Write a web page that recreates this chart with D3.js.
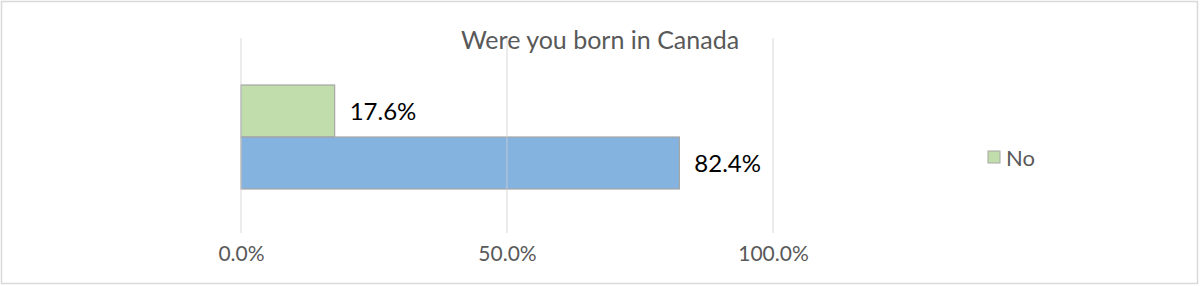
<!DOCTYPE html>
<html>
<head>
<meta charset="utf-8">
<script src="https://cdn.jsdelivr.net/npm/d3@7"></script>
<style>
  html, body { margin: 0; padding: 0; background: #fff; }
  svg { display: block; }
</style>
</head>
<body>
<div id="chart"></div>
<script>
// data
const seriesNames = ["No", "Yes"]
const seriesValues = [17.6, 82.4]
const seriesColors = ["#C1DDAB", "#84B3E0"]
const legendNames = ["No"]
const tickValues = [0, 50, 100]
const chartTitle = "Were you born in Canada"

const width = 1200
const height = 286
const font = "Lato, 'Open Sans', sans-serif"

const svg = d3.select("#chart")
  .append("svg")
  .attr("width", width)
  .attr("height", height)

// outer frame
svg.append("rect")
  .attr("x", 1.5).attr("y", 1.5)
  .attr("width", width - 4).attr("height", height - 4)
  .attr("fill", "#fff")
  .attr("stroke", "#D9D9D9")
  .attr("stroke-width", 1.5)

const x = d3.scaleLinear().domain([0, 100]).range([241, 773])
const y = d3.scaleBand().domain(seriesNames).range([85, 189]).paddingInner(0)

// bars
svg.append("g")
  .selectAll("rect")
  .data(seriesNames)
  .join("rect")
  .attr("x", x(0))
  .attr("y", d => y(d))
  .attr("width", (d, i) => x(seriesValues[i]) - x(0))
  .attr("height", y.bandwidth())
  .attr("fill", (d, i) => seriesColors[i])
  .attr("stroke", "#A6A6A6")
  .attr("stroke-width", 1.2)

// gridlines (drawn over bars, faint)
svg.append("g")
  .selectAll("line")
  .data(tickValues)
  .join("line")
  .attr("x1", d => x(d)).attr("x2", d => x(d))
  .attr("y1", 38).attr("y2", 233)
  .attr("stroke", "#D0D0D0")
  .attr("stroke-opacity", 0.8)
  .attr("stroke-width", 1)

// tick labels
const xAxis = d3.axisBottom(x)
  .tickValues(tickValues)
  .tickFormat(d => d.toFixed(1) + "%")
  .tickSize(0)
  .tickPadding(0)

const axisG = svg.append("g")
  .attr("transform", "translate(0,261)")
  .call(xAxis)
axisG.select(".domain").remove()
axisG.selectAll("text")
  .attr("dy", 0)
  .attr("font-family", font)
  .attr("font-size", 21)
  .attr("fill", "#595959")

// value labels
svg.append("g")
  .selectAll("text")
  .data(seriesNames)
  .join("text")
  .attr("x", (d, i) => x(seriesValues[i]) + 15)
  .attr("y", d => y(d) + y.bandwidth() / 2 + 9)
  .attr("font-family", font)
  .attr("font-size", 24)
  .attr("fill", "#000")
  .text((d, i) => seriesValues[i].toFixed(1) + "%")

// title
svg.append("text")
  .attr("x", 600)
  .attr("y", 49)
  .attr("text-anchor", "middle")
  .attr("font-family", font)
  .attr("font-size", 25)
  .attr("fill", "#595959")
  .text(chartTitle)

// legend
const legend = svg.append("g")
  .selectAll("g")
  .data(legendNames)
  .join("g")
  .attr("transform", "translate(988,151)")
legend.append("rect")
  .attr("width", 12).attr("height", 12)
  .attr("fill", (d) => seriesColors[seriesNames.indexOf(d)])
  .attr("stroke", "#A6A6A6")
  .attr("stroke-width", 1)
legend.append("text")
  .attr("x", 18)
  .attr("y", 15)
  .attr("font-family", font)
  .attr("font-size", 22)
  .attr("fill", "#595959")
  .text(d => d)
</script>
</body>
</html>
